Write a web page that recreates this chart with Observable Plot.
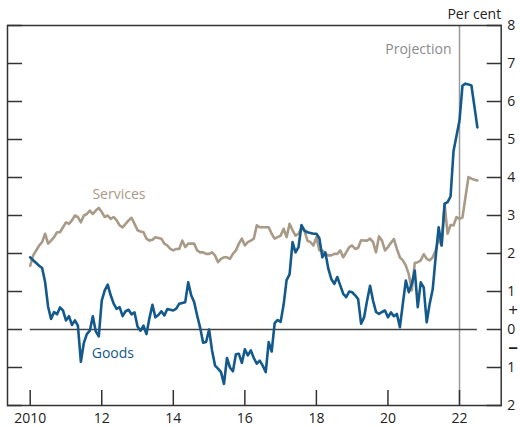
<!DOCTYPE html>
<html><head><meta charset="utf-8">
<script src="https://cdn.jsdelivr.net/npm/d3@7"></script>
<script src="https://cdn.jsdelivr.net/npm/@observablehq/plot@0.6"></script>
<style>
body{margin:0;background:#fff;}
#chart svg{display:block;}
</style></head><body><div id="chart"></div>
<script>
// Monthly series, January 2010 to July 2022 (per cent)
const startYear = 2010;
const goods = [
  1.90, 1.82, 1.75, 1.68, 1.62, 1.25, 0.60, 0.28, 0.46, 0.40, 0.58, 0.50,
  0.24, 0.35, 0.12, 0.24, 0.10, -0.85, -0.35, -0.12, -0.03, 0.35, -0.05, -0.18,
  0.76, 1.03, 1.18, 0.90, 0.68, 0.54, 0.59, 0.35, 0.48, 0.52, 0.40, 0.45,
  0.08, -0.03, 0.10, -0.12, 0.30, 0.65, 0.32, 0.38, 0.48, 0.37, 0.54, 0.52,
  0.50, 0.55, 0.68, 0.70, 0.72, 1.24, 0.90, 0.72, 0.37, 0.05, -0.35, -0.33,
  0.00, -0.55, -0.95, -1.03, -1.12, -1.43, -0.75, -1.00, -1.10, -0.65, -0.64, -0.88,
  -0.52, -0.68, -0.55, -0.75, -0.90, -0.82, -0.95, -1.12, -0.33, -0.58, 0.17, 0.25,
  0.20, 0.65, 1.30, 1.45, 2.30, 2.03, 2.17, 2.75, 2.60, 2.56, 2.54, 2.52,
  2.52, 2.40, 1.90, 2.03, 1.60, 1.33, 1.20, 1.38, 1.16, 0.94, 0.85, 1.00,
  0.98, 0.90, 0.80, 0.15, 0.32, 0.76, 1.15, 0.76, 0.46, 0.41, 0.46, 0.50,
  0.32, 0.45, 0.35, 0.41, 0.06, 0.68, 1.29, 0.98, 1.20, 1.55, 0.59, 1.24,
  1.11, 0.19, 0.68, 1.05, 1.90, 2.69, 2.21, 3.31, 3.35, 3.50, 4.70, 5.10,
  5.50, 6.42, 6.47, 6.45, 6.42, 5.87, 5.32
];
const services = [
  1.68, 1.95, 2.08, 2.21, 2.30, 2.52, 2.26, 2.34, 2.43, 2.56, 2.56, 2.69,
  2.82, 2.78, 2.87, 3.00, 2.96, 2.82, 3.00, 3.04, 3.13, 3.04, 3.13, 3.20,
  3.09, 2.96, 3.00, 2.91, 2.96, 2.87, 2.74, 2.69, 2.78, 2.87, 2.94, 2.78,
  2.61, 2.58, 2.56, 2.39, 2.34, 2.36, 2.43, 2.41, 2.39, 2.26, 2.21, 2.12,
  2.08, 2.12, 2.12, 2.34, 2.17, 2.26, 2.26, 2.26, 2.08, 2.03, 2.03, 1.99,
  1.99, 2.03, 1.95, 1.77, 1.86, 1.90, 1.90, 1.86, 1.99, 2.08, 2.26, 2.39,
  2.21, 2.30, 2.34, 2.39, 2.74, 2.69, 2.69, 2.69, 2.69, 2.52, 2.39, 2.43,
  2.47, 2.65, 2.43, 2.78, 2.61, 2.47, 2.52, 2.67, 2.60, 2.34, 2.30, 2.21,
  2.43, 2.08, 2.08, 1.99, 1.95, 1.95, 1.99, 1.99, 2.08, 1.90, 2.03, 2.17,
  2.21, 2.12, 2.15, 2.35, 2.34, 2.34, 2.39, 2.30, 2.03, 2.45, 2.34, 2.08,
  2.17, 2.28, 2.38, 2.12, 1.90, 1.82, 1.68, 1.45, 1.03, 1.75, 1.77, 1.82,
  1.98, 1.86, 1.82, 1.90, 2.08, 2.40, 2.21, 3.30, 2.52, 2.75, 2.74, 2.96,
  2.91, 2.95, 3.48, 4.01, 3.97, 3.94, 3.92
];
const xTicks = [2010, 2012, 2014, 2016, 2018, 2020, 2022];
const xTickLabels = ["2010", "12", "14", "16", "18", "20", "22"];
const yTicks = [-2, -1, 0, 1, 2, 3, 4, 5, 6, 7, 8];
const projectionStart = 2022;
const xDomain = [2009.3655, 2023.1656];
const yDomain = [-2, 8];

const toRows = (arr) => arr.map((v, i) => ({t: startYear + i / 12, v}));
const goodsRows = toRows(goods);
const servicesRows = toRows(services);
const tFirst = goodsRows[0].t;
const tLast = goodsRows[goodsRows.length - 1].t;

// annotation anchors (data coordinates)
const labels = [
  {text: "Services", t: 2011.74, v: 3.55, color: "#a89a86"},
  {text: "Goods", t: 2011.72, v: -0.62, color: "#13598b"}
];

const frameColor = "#333";
const plot = Plot.plot({
  width: 520,
  height: 427,
  marginLeft: 7,
  marginRight: 19.3,
  marginTop: 25,
  marginBottom: 22,
  style: {fontFamily: "'Open Sans', sans-serif", fontSize: "14px", color: "#222", background: "#fff"},
  x: {type: "linear", domain: xDomain, axis: null},
  y: {domain: yDomain, axis: null},
  marks: [
    Plot.ruleX([projectionStart], {stroke: "#999", strokeWidth: 1.5}),
    Plot.ruleY([0], {x1: tFirst, x2: tLast, stroke: "#444", strokeWidth: 1.5}),
    Plot.axisY(yTicks, {anchor: "left", tickSize: -15, tickFormat: () => "", stroke: frameColor, strokeWidth: 1.5, label: null}),
    Plot.axisY(yTicks, {anchor: "right", tickSize: -15, tickPadding: 21, tickFormat: d => String(Math.abs(d)), stroke: frameColor, strokeWidth: 1.5, fill: "#222", label: null}),
    Plot.axisX(xTicks, {anchor: "bottom", tickSize: -15, tickPadding: 23, tickFormat: (d, i) => xTickLabels[i], stroke: frameColor, strokeWidth: 1.5, fill: "#222", label: null}),
    Plot.line(servicesRows, {x: "t", y: "v", stroke: "#a89a86", strokeWidth: 2.6}),
    Plot.line(goodsRows, {x: "t", y: "v", stroke: "#13598b", strokeWidth: 2.6}),
    Plot.text(labels, {x: "t", y: "v", text: "text", fill: "color", textAnchor: "start", fontSize: 14}),
    Plot.text(["Projection"], {x: [projectionStart], frameAnchor: "top", dy: 19, dx: -8, textAnchor: "end", fill: "#8a8a8a", fontSize: 14}),
    Plot.text(["Per cent"], {frameAnchor: "top-right", dy: -16, textAnchor: "end", fill: "#222", fontSize: 14}),
    Plot.text(["+"], {y: [0.5], frameAnchor: "right", dx: 12, textAnchor: "middle", fill: "#222", fontSize: 17}),
    Plot.text(["\u2212"], {y: [-0.5], frameAnchor: "right", dx: 12, textAnchor: "middle", fill: "#222", fontSize: 17, fontWeight: "bold"}),
    Plot.frame({stroke: frameColor, strokeWidth: 1.5})
  ]
});
document.getElementById("chart").appendChild(plot);
</script>
</body></html>
